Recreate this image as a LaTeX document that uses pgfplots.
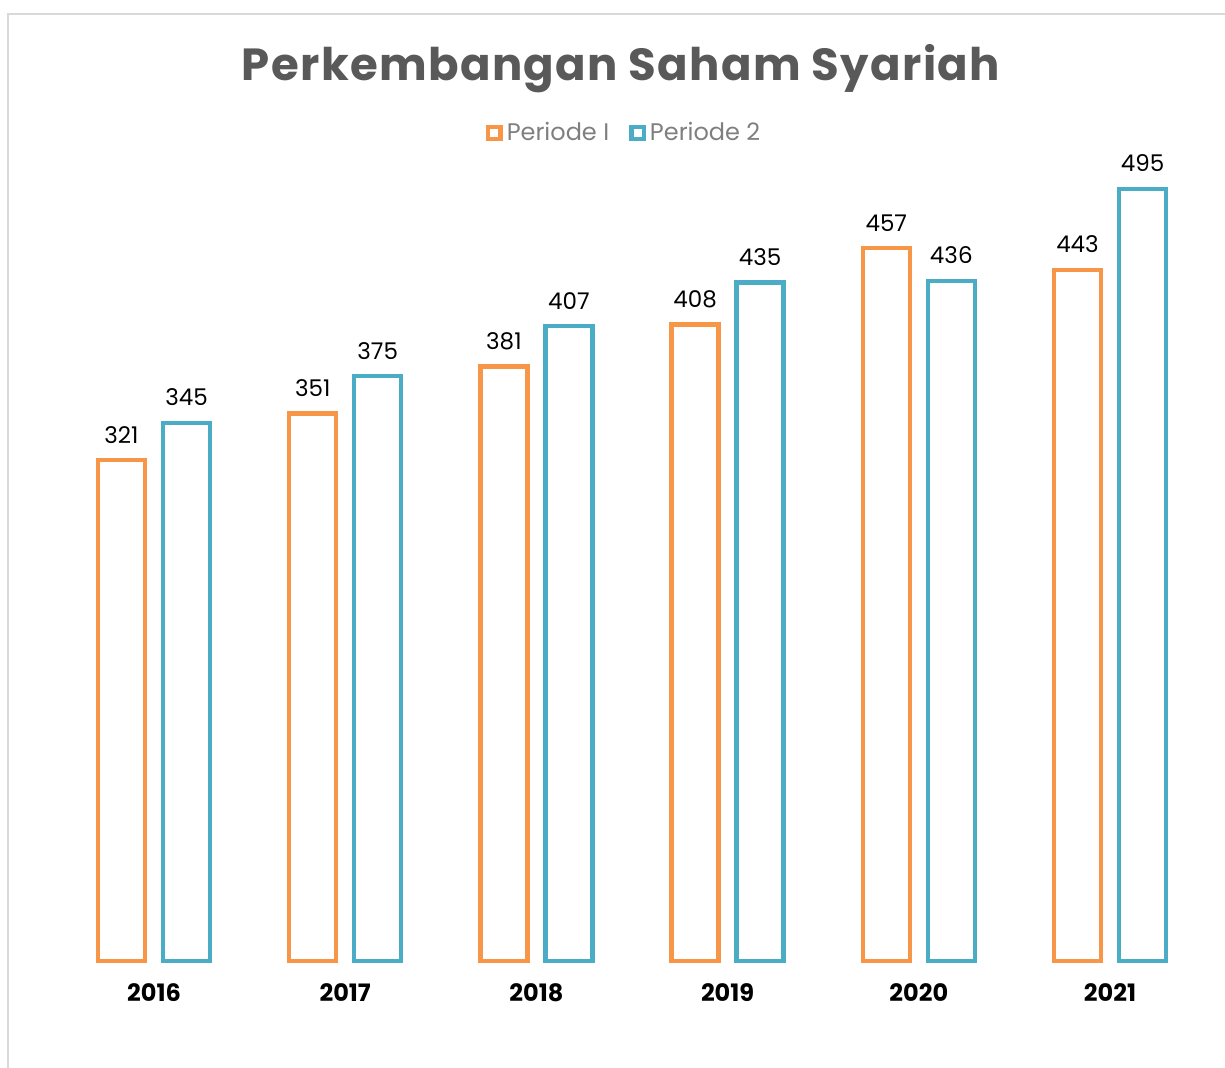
\documentclass[border=0pt]{standalone}
\usepackage{fontspec}
\setmainfont{Poppins}
\usepackage{pgfplots}
\pgfplotsset{compat=1.18}
\definecolor{corange}{HTML}{F79646}
\definecolor{cteal}{HTML}{4BACC6}
\definecolor{ctitle}{HTML}{595959}
\definecolor{clegend}{HTML}{7F7F7F}
\definecolor{cframe}{HTML}{D9D9D9}
\begin{document}
\begin{tikzpicture}
\useasboundingbox (0,0) rectangle (612.5pt,534pt);
\draw[cframe, line width=0.75pt] (4pt,0) -- (4pt,527pt) -- (620pt,527pt);
\node[font=\fontsize{22.5}{27}\selectfont\bfseries\addfontfeature{LetterSpace=3}, text=ctitle] at (310.5pt,499.5pt) {Perkembangan Saham Syariah};
\begin{axis}[
  at={(29.2pt,53.5pt)}, anchor=south west,
  scale only axis, width=573.6pt, height=390pt,
  xmin=-0.5, xmax=5.5, ymin=0, ymax=500,
  axis line style={draw=none},
  ytick=\empty,
  xtick=data, xticklabels={2016,2017,2018,2019,2020,2021},
  major tick length=0pt,
  xticklabel style={font=\fontsize{12}{14}\selectfont\bfseries, text=black, yshift=-8pt},
  ybar, bar width=23.5pt,
  nodes near coords,
  /pgf/number format/assume math mode=true,
  every node near coord/.append style={font=\fontsize{11.5}{14}\selectfont, text=black, yshift=4pt},
  legend columns=2,
  legend style={at={(0.494,1.0615)}, anchor=center, draw=none, fill=none,
    font=\fontsize{12}{14}\selectfont, text=clegend,
    /tikz/every even column/.append style={column sep=8pt}},
  legend image code/.code={\draw[#1, line width=2.2pt, fill=white] (0pt,-3.1pt) rectangle (6.2pt,3.1pt);},
  clip=false,
]
\addplot[draw=corange, fill=white, line width=2.2pt, bar shift=-16.25pt] coordinates {(0,321) (1,351) (2,381) (3,408) (4,457) (5,443)};
\addplot[draw=cteal, fill=white, line width=2.2pt, bar shift=16.25pt] coordinates {(0,345) (1,375) (2,407) (3,435) (4,436) (5,495)};
\legend{Periode I, Periode 2}
\end{axis}
\end{tikzpicture}
\end{document}
